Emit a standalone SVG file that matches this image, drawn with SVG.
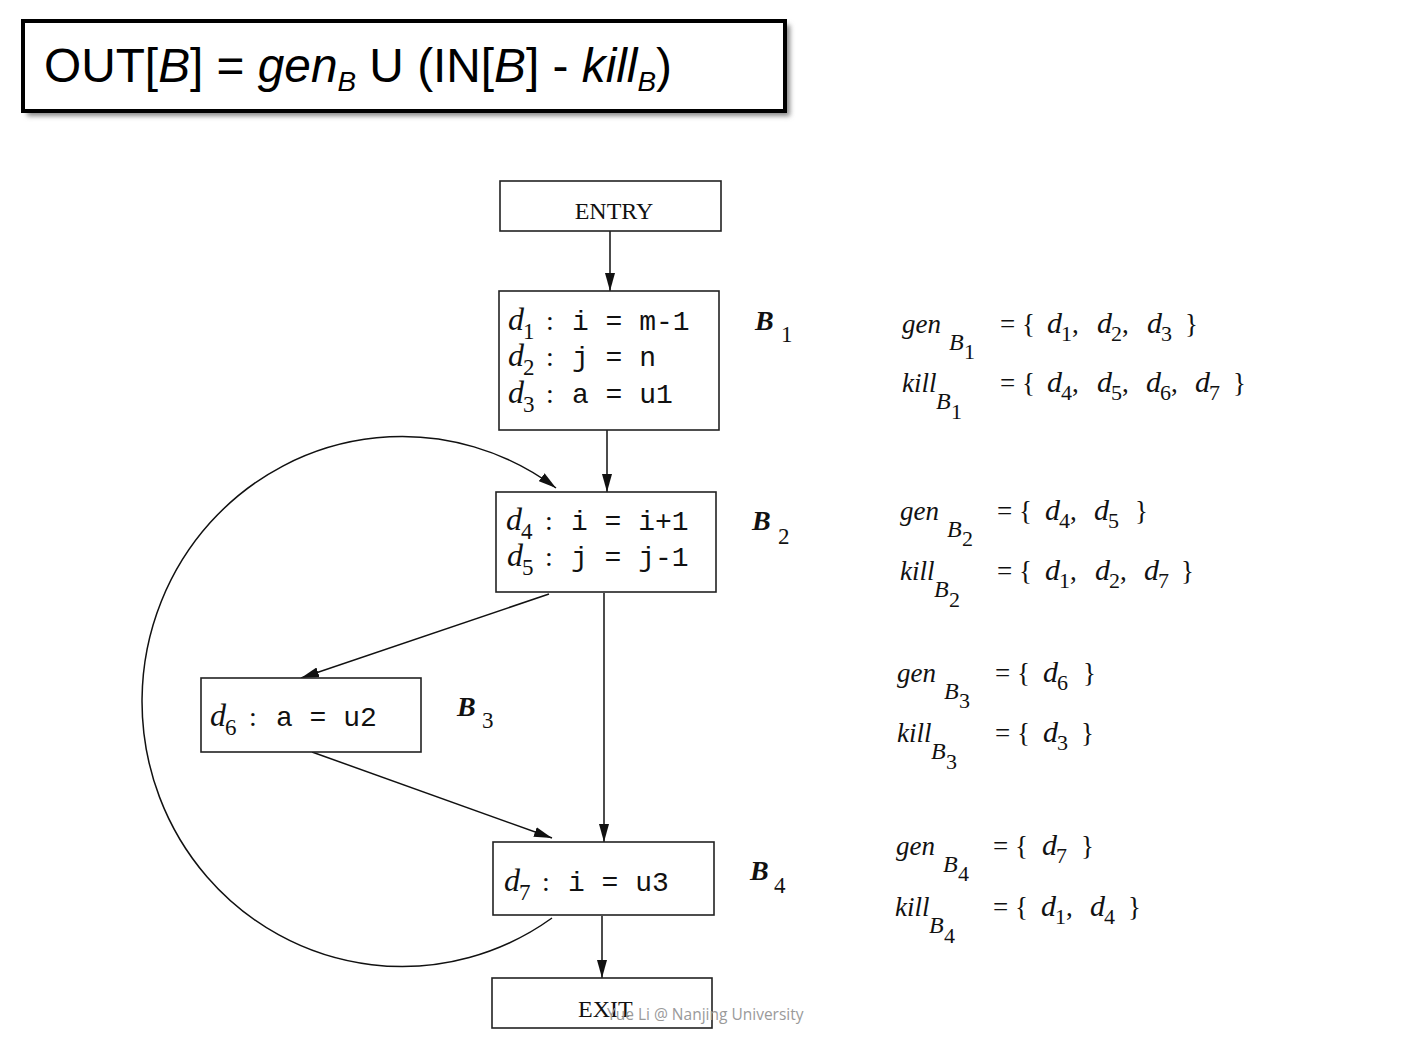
<svg xmlns="http://www.w3.org/2000/svg" width="1405" height="1055" viewBox="0 0 1405 1055">
<style>
.box{fill:#fff;stroke:#222;stroke-width:1.6}
.con{fill:none;stroke:#111;stroke-width:1.5}
.f{font-family:"Liberation Sans",Arial,sans-serif;font-size:48px;fill:#000}
.sv{font-family:"Liberation Serif","Times New Roman",serif;fill:#111}
.it{font-style:italic}
.d{font-family:"Liberation Serif","Times New Roman",serif;font-style:italic;font-size:32px;fill:#111}
.ds{font-family:"Liberation Serif","Times New Roman",serif;font-size:23px;fill:#111}
.m{font-family:"Liberation Mono","Courier New",monospace;font-size:28px;fill:#111}
.col{font-family:"Liberation Serif","Times New Roman",serif;font-size:28px;fill:#111}
.lbl{font-family:"Liberation Serif","Times New Roman",serif;font-style:italic;font-weight:bold;font-size:28px;fill:#111}
.lsub{font-family:"Liberation Serif","Times New Roman",serif;font-size:23px;fill:#111}
.g{font-family:"Liberation Serif","Times New Roman",serif;font-style:italic;font-size:27px;fill:#111}
.gB{font-family:"Liberation Serif","Times New Roman",serif;font-style:italic;font-size:24px;fill:#111}
.gn{font-family:"Liberation Serif","Times New Roman",serif;font-size:22px;fill:#111}
.set{font-family:"Liberation Serif","Times New Roman",serif;font-size:27px;fill:#111}
.sd{font-style:italic;font-size:30px}
.ss{font-size:22px}
.wm{font-family:"Open Sans","Liberation Sans",sans-serif;font-size:15.5px;fill:#9a9a9a}
</style>
<defs>
<marker id="ah" markerUnits="userSpaceOnUse" viewBox="0 0 18 10" refX="18" refY="5" markerWidth="18" markerHeight="10" orient="auto">
<path d="M0,0 L18,5 L0,10 z" fill="#111"/>
</marker>
<filter id="sh" x="-5%" y="-20%" width="110%" height="140%"><feGaussianBlur stdDeviation="2.5"/></filter>
</defs>
<rect width="1405" height="1055" fill="#fff"/>

<g id="formula">
<rect x="27" y="25" width="763" height="91" fill="#888" filter="url(#sh)"/>
<rect x="23" y="21" width="762" height="90" fill="#fff" stroke="#000" stroke-width="4"/>
<text class="f" x="44" y="82" textLength="628" lengthAdjust="spacingAndGlyphs">OUT[<tspan class="it">B</tspan>] = <tspan class="it">gen</tspan><tspan class="it" font-size="28" dy="9">B</tspan><tspan dy="-9"> U (IN[</tspan><tspan class="it">B</tspan>] - <tspan class="it">kill</tspan><tspan class="it" font-size="28" dy="9">B</tspan><tspan dy="-9">)</tspan></text>
</g>

<g id="connectors">
<path class="con" d="M610 231 V291" marker-end="url(#ah)"/>
<path class="con" d="M607 430 V492" marker-end="url(#ah)"/>
<path class="con" d="M549 594 L301 678" marker-end="url(#ah)"/>
<path class="con" d="M312 752 L552 838" marker-end="url(#ah)"/>
<path class="con" d="M604 593 V842" marker-end="url(#ah)"/>
<path class="con" d="M602 916 V978" marker-end="url(#ah)"/>
<path class="con" d="M552 918 A260 265 0 1 1 556 488" marker-end="url(#ah)"/>
</g>

<g id="entry">
<rect class="box" x="500" y="181" width="221" height="50"/>
<text class="sv" x="614" y="219" font-size="24" text-anchor="middle">ENTRY</text>
</g>

<g id="b1">
<rect class="box" x="499" y="291" width="220" height="139"/>
<text><tspan class="d" x="508" y="330">d</tspan><tspan class="ds" x="523" dy="9">1</tspan><tspan class="col" x="546" y="330">:</tspan><tspan class="m" x="572" y="330">i = m-1</tspan></text>
<text><tspan class="d" x="508" y="366">d</tspan><tspan class="ds" x="523" dy="9">2</tspan><tspan class="col" x="546" y="366">:</tspan><tspan class="m" x="572" y="366">j = n</tspan></text>
<text><tspan class="d" x="508" y="403">d</tspan><tspan class="ds" x="523" dy="9">3</tspan><tspan class="col" x="546" y="403">:</tspan><tspan class="m" x="572" y="403">a = u1</tspan></text>
<text><tspan class="lbl" x="755" y="330">B</tspan><tspan class="lsub" x="781" y="342">1</tspan></text>
</g>

<g id="b2">
<rect class="box" x="496" y="492" width="220" height="100"/>
<text><tspan class="d" x="506" y="530">d</tspan><tspan class="ds" x="521" dy="9">4</tspan><tspan class="col" x="545" y="530">:</tspan><tspan class="m" x="571" y="530">i = i+1</tspan></text>
<text><tspan class="d" x="507" y="566">d</tspan><tspan class="ds" x="522" dy="9">5</tspan><tspan class="col" x="545" y="566">:</tspan><tspan class="m" x="571" y="566">j = j-1</tspan></text>
<text><tspan class="lbl" x="752" y="530">B</tspan><tspan class="lsub" x="778" y="544">2</tspan></text>
</g>

<g id="b3">
<rect class="box" x="201" y="678" width="220" height="74"/>
<text><tspan class="d" x="210" y="726">d</tspan><tspan class="ds" x="225" dy="9">6</tspan><tspan class="col" x="249" y="726">:</tspan><tspan class="m" x="276" y="726">a = u2</tspan></text>
<text><tspan class="lbl" x="457" y="716">B</tspan><tspan class="lsub" x="482" y="728">3</tspan></text>
</g>

<g id="b4">
<rect class="box" x="493" y="842" width="221" height="73"/>
<text><tspan class="d" x="504" y="891">d</tspan><tspan class="ds" x="519" dy="9">7</tspan><tspan class="col" x="542" y="891">:</tspan><tspan class="m" x="568" y="891">i = u3</tspan></text>
<text><tspan class="lbl" x="750" y="880">B</tspan><tspan class="lsub" x="774" y="893">4</tspan></text>
</g>

<g id="exit">
<rect class="box" x="492" y="978" width="220" height="50"/>
<text class="sv" x="578" y="1017" font-size="24">EXIT</text>
</g>

<g id="sets">
<text><tspan class="g" x="902" y="333">gen</tspan><tspan class="gB" x="949" y="350">B</tspan><tspan class="gn" x="964" y="359">1</tspan></text>
<text class="set" y="333"><tspan x="1000">= {</tspan><tspan class="sd" x="1047">d</tspan><tspan class="ss" x="1061" dy="8">1</tspan><tspan dy="-8">,</tspan><tspan class="sd" x="1097">d</tspan><tspan class="ss" x="1111" dy="8">2</tspan><tspan dy="-8">,</tspan><tspan class="sd" x="1147">d</tspan><tspan class="ss" x="1161" dy="8">3</tspan><tspan dy="-8" x="1185">}</tspan></text>

<text><tspan class="g" x="902" y="392">kill</tspan><tspan class="gB" x="936" y="409">B</tspan><tspan class="gn" x="951" y="419">1</tspan></text>
<text class="set" y="392"><tspan x="1000">= {</tspan><tspan class="sd" x="1047">d</tspan><tspan class="ss" x="1061" dy="8">4</tspan><tspan dy="-8">,</tspan><tspan class="sd" x="1097">d</tspan><tspan class="ss" x="1111" dy="8">5</tspan><tspan dy="-8">,</tspan><tspan class="sd" x="1146">d</tspan><tspan class="ss" x="1160" dy="8">6</tspan><tspan dy="-8">,</tspan><tspan class="sd" x="1195">d</tspan><tspan class="ss" x="1209" dy="8">7</tspan><tspan dy="-8" x="1233">}</tspan></text>

<text><tspan class="g" x="900" y="520">gen</tspan><tspan class="gB" x="947" y="537">B</tspan><tspan class="gn" x="962" y="546">2</tspan></text>
<text class="set" y="520"><tspan x="997">= {</tspan><tspan class="sd" x="1045">d</tspan><tspan class="ss" x="1059" dy="8">4</tspan><tspan dy="-8">,</tspan><tspan class="sd" x="1094">d</tspan><tspan class="ss" x="1108" dy="8">5</tspan><tspan dy="-8" x="1135">}</tspan></text>

<text><tspan class="g" x="900" y="580">kill</tspan><tspan class="gB" x="934" y="597">B</tspan><tspan class="gn" x="949" y="607">2</tspan></text>
<text class="set" y="580"><tspan x="997">= {</tspan><tspan class="sd" x="1045">d</tspan><tspan class="ss" x="1059" dy="8">1</tspan><tspan dy="-8">,</tspan><tspan class="sd" x="1095">d</tspan><tspan class="ss" x="1109" dy="8">2</tspan><tspan dy="-8">,</tspan><tspan class="sd" x="1144">d</tspan><tspan class="ss" x="1158" dy="8">7</tspan><tspan dy="-8" x="1181">}</tspan></text>

<text><tspan class="g" x="897" y="682">gen</tspan><tspan class="gB" x="944" y="699">B</tspan><tspan class="gn" x="959" y="708">3</tspan></text>
<text class="set" y="682"><tspan x="995">= {</tspan><tspan class="sd" x="1043">d</tspan><tspan class="ss" x="1057" dy="8">6</tspan><tspan dy="-8" x="1083">}</tspan></text>

<text><tspan class="g" x="897" y="742">kill</tspan><tspan class="gB" x="931" y="759">B</tspan><tspan class="gn" x="946" y="769">3</tspan></text>
<text class="set" y="742"><tspan x="995">= {</tspan><tspan class="sd" x="1043">d</tspan><tspan class="ss" x="1057" dy="8">3</tspan><tspan dy="-8" x="1081">}</tspan></text>

<text><tspan class="g" x="896" y="855">gen</tspan><tspan class="gB" x="943" y="872">B</tspan><tspan class="gn" x="958" y="881">4</tspan></text>
<text class="set" y="855"><tspan x="993">= {</tspan><tspan class="sd" x="1042">d</tspan><tspan class="ss" x="1056" dy="8">7</tspan><tspan dy="-8" x="1081">}</tspan></text>

<text><tspan class="g" x="895" y="916">kill</tspan><tspan class="gB" x="929" y="933">B</tspan><tspan class="gn" x="944" y="943">4</tspan></text>
<text class="set" y="916"><tspan x="993">= {</tspan><tspan class="sd" x="1041">d</tspan><tspan class="ss" x="1055" dy="8">1</tspan><tspan dy="-8">,</tspan><tspan class="sd" x="1090">d</tspan><tspan class="ss" x="1104" dy="8">4</tspan><tspan dy="-8" x="1128">}</tspan></text>
</g>

<text class="wm" x="607" y="1020">Yue Li @ Nanjing University</text>
</svg>
